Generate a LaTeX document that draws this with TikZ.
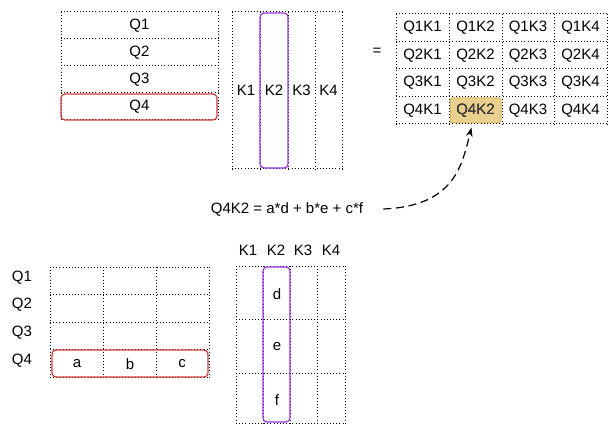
\documentclass[tikz,border=0pt]{standalone}
\usepackage{fontspec}
\setmainfont{Liberation Sans}
\usetikzlibrary{arrows.meta}
\definecolor{qred}{HTML}{D03A3A}
\definecolor{kpurple}{HTML}{9933DD}
\definecolor{hifill}{HTML}{EAD08E}
\definecolor{hidraw}{HTML}{D6B656}
\tikzset{
  grid/.style={line width=0.75pt,dash pattern=on 0.75pt off 1.6pt},
  qbox/.style={draw=qred,line width=0.9pt,rounded corners=3pt},
  kbox/.style={draw=kpurple,line width=0.9pt,rounded corners=3pt},
  lbl/.style={inner sep=1pt,font=\fontsize{11.25}{13}\selectfont}
}
\begin{document}
\begin{tikzpicture}[x=0.75pt,y=-0.75pt]
  \useasboundingbox (0,0) rectangle (614,431);
  % top: Q matrix
  \foreach \y in {12,39,66,93,120} \draw[grid] (61,\y) -- (218,\y);
  \foreach \x in {61,218} \draw[grid] (\x,12) -- (\x,120);
  \draw[qbox] (61,94) rectangle (217,120);
  \foreach \i/\y in {1/25.5,2/52.5,3/79.5,4/106.5}
    \node[lbl] (q\i) at (139.5,\y) {Q\i};
  % top: K matrix
  \foreach \x in {232,260,288,315,342} \draw[grid] (\x,12) -- (\x,169);
  \foreach \y in {12,169} \draw[grid] (232,\y) -- (342,\y);
  \draw[kbox] (260,13) rectangle (288,168);
  \foreach \i/\x in {1/246,2/274,3/301.5,4/328.5}
    \node[lbl] (k\i) at (\x,90) {K\i};
  \node[lbl] (eq) at (377,52) {=};
  % result matrix
  \node[draw=hidraw,fill=hifill,line width=0.75pt,rounded corners=2pt,
    minimum width=51pt*0.75,minimum height=25pt*0.75] (hi) at (475.5,110.5) {};
  \foreach \y in {14,41.5,69,96.5,124} \draw[grid] (396,\y) -- (607,\y);
  \foreach \x in {396,449,502,554,607} \draw[grid] (\x,14) -- (\x,124);
  \foreach \r in {1,2,3,4} {
    \foreach \c/\x in {1/422.5,2/475.5,3/528,4/580.5} {
      \node[lbl] (r\r\c) at (\x,{27.75+27.5*(\r-1)}) {Q\r K\c};
    }
  }
  \node[lbl,text=black!75] at (hi) {Q4K2};
  % formula and arrow
  \node[lbl] (sum) at (287,209) {Q4K2 = a*d + b*e + c*f};
  \draw[line width=0.9pt,dash pattern=on 6pt off 3.5pt,-{Stealth[length=7pt,width=5pt]}]
    ([xshift=14pt]sum.east) .. controls (455,206) and (462,165) .. ([xshift=-3pt,yshift=-3pt]hi.south);
  % bottom: Q rows
  \foreach \y in {267,294,322,349,377} \draw[grid] (50,\y) -- (209,\y);
  \foreach \x in {50,103,156,209} \draw[grid] (\x,267) -- (\x,377);
  \draw[qbox] (52,350) rectangle (208,377);
  \foreach \i/\y in {1/278,2/305,3/333,4/361}
    \node[lbl] (bq\i) at (22,\y) {Q\i};
  \node[lbl] (a) at (77,364) {a};
  \node[lbl] (b) at (130,364) {b};
  \node[lbl] (c) at (182,364) {c};
  % bottom: K columns
  \foreach \y in {266,319.5,373,423} \draw[grid] (236,\y) -- (345,\y);
  \foreach \x in {236,263.25,290.5,317.75,345} \draw[grid] (\x,266) -- (\x,423);
  \draw[kbox] (263,267) rectangle (290,422);
  \foreach \i/\x in {1/248,2/276,3/303,4/331}
    \node[lbl] (bk\i) at (\x,250) {K\i};
  \node[lbl] (d) at (277,294) {d};
  \node[lbl] (e) at (277,347) {e};
  \node[lbl] (f) at (277,400) {f};
\end{tikzpicture}
\end{document}
